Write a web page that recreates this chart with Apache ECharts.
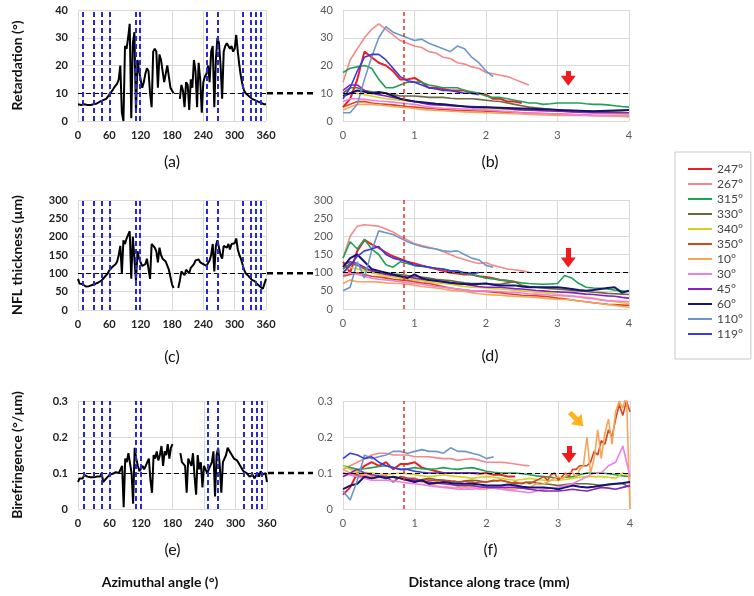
<!DOCTYPE html>
<html lang="en">
<head>
    <meta charset="utf-8">
    <title>Retardation / NFL thickness / birefringence</title>
    <script src="https://cdn.jsdelivr.net/npm/echarts@6/dist/echarts.min.js"></script>
    <style>
        html, body { margin: 0; padding: 0; background: #fff; }
        #main { width: 754px; height: 596px; }
    </style>
</head>
<body>
<div id="main"></div>
<script>
    // trace names / colours (legend order)
    var traceNames = ['247°', '267°', '315°', '330°', '340°', '350°', '10°', '30°', '45°', '60°', '110°', '119°'];
    var traceColors = ['#ee1c25', '#f4898b', '#1fa254', '#6b6a3c', '#d8d01c', '#d8441a', '#f6a45a', '#f07ce8', '#8a1fc2', '#15156e', '#6e96c9', '#3a3ae0'];
    var traceAngles = [10, 30, 45, 60, 110, 119, 247, 267, 315, 330, 340, 350];

    // azimuthal profiles (left column), sampled every 3 deg
    var angles = [0, 3, 6, 9, 12, 15, 18, 21, 24, 27, 30, 33, 36, 39, 42, 45, 48, 51, 54, 57,
        60, 63, 66, 69, 72, 75, 78, 81, 84, 87, 90, 93, 96, 99, 102, 105, 108, 111, 114, 117,
        120, 123, 126, 129, 132, 135, 138, 141, 144, 147, 150, 153, 156, 159, 162, 165, 168, 171, 174, 177,
        180, 183, 186, 189, 192, 195, 198, 201, 204, 207, 210, 213, 216, 219, 222, 225, 228, 231, 234, 237,
        240, 243, 246, 249, 252, 255, 258, 261, 264, 267, 270, 273, 276, 279, 282, 285, 288, 291, 294, 297,
        300, 303, 306, 309, 312, 315, 318, 321, 324, 327, 330, 333, 336, 339, 342, 345, 348, 351, 354, 357, 360];
    var retardAz = [6, 5.5, 5.8, 5.5, 6, 5.5, 5.8, 5.2, 5.8, 5.5, 6, 5.8, 6.3, 6.5, 7, 6.8, 7.5, 7.2, 8, 8.5,
        9.5, 10, 11, 12, 12.5, 13.5, 15, 20, 3, 0, 27, 26, 30, 35, 1, 28, 32, 3, 22, 18,
        15, 12, 14, 17, 19, 18, 10, 5, 25, 26, 25, 12, 24, 22, 18, 14, 17, 20, 16, 12,
        11, 10, null, null, null, 8, 13, 11, 5, 14, 13, 4, 15, 12, 22, 18, 5, 21, 15, 3,
        14, 16, 17, 20, 14, 25, 27, 5, 22, 30, 28, 20, 8, 25, 27, 28, 27, 26, 27, 25,
        26, 31, 25, 20, 16, 13, 11, 10, 9.5, 9, 8.5, 8, 8, 7.5, 7, 7, 6.5, 6.5, 6, 6, 6];
    var thicknessAz = [85, 72, 68, 70, 66, 64, 63, 65, 66, 68, 70, 71, 73, 75, 78, 80, 85, 90, 95, 100,
        108, 112, 118, 120, 125, 132, 150, 175, 100, 190, 180, 195, 205, 215, 85, 200, 195, 80, 160, 140,
        130, 120, 115, 125, 140, 145, 85, 180, 175, 170, 160, 130, 170, 150, 140, 135, 132, 128, 110, 90,
        70, 60, null, null, 60, 80, 105, 100, 95, 110, 105, 100, 115, 120, 125, 135, 140, 138, 130, 135,
        125, 122, 120, 128, 135, 150, 180, 105, 175, 190, 170, 150, 140, 175, 180, 170, 180, 165, 180, 175,
        182, 195, 165, 150, 140, 125, 110, 100, 95, 92, 88, 82, 80, 78, 72, 68, 65, 60, 58, 62, 85];
    var birefAz = [0.075, 0.085, 0.09, 0.085, 0.095, 0.1, 0.09, 0.092, 0.088, 0.09, 0.088, 0.092, 0.09, 0.095, 0.09, 0.1, 0.075, 0.07, 0.085, 0.09,
        0.095, 0.1, 0.098, 0.1, 0.102, 0.105, 0.1, 0.11, 0.12, 0.005, 0.14, 0.13, 0.155, 0.16, 0.1, 0.015, 0.17, 0.14, 0.12, 0.105,
        0.1, 0.12, 0.11, 0.12, 0.13, 0.14, 0.08, 0.045, 0.15, 0.14, 0.16, 0.135, 0.15, 0.175, 0.12, 0.16, 0.15, 0.18, 0.14, 0.17,
        0.18, null, null, null, null, 0.155, 0.13, 0.125, 0.12, 0.045, 0.14, 0.13, 0.12, 0.155, 0.09, 0.04, 0.15, 0.11, 0.13, 0.06,
        0.12, 0.11, 0.1, 0.1, 0.12, 0.13, 0.16, 0.035, 0.15, 0.17, 0.12, 0.045, 0.13, 0.14, 0.15, 0.17, 0.165, 0.155, 0.16, 0.14,
        0.14, 0.135, 0.13, 0.12, 0.115, 0.105, 0.1, 0.1, 0.095, 0.09, 0.095, 0.095, 0.085, 0.08, 0.1, 0.09, 0.105, 0.095, 0.1, 0.1, 0.075];

    // distance along trace (right column)
    var dist = [0, 0.1, 0.2, 0.3, 0.4, 0.5, 0.6, 0.7, 0.8, 0.9, 1, 1.1, 1.2, 1.3, 1.4, 1.5, 1.6, 1.7, 1.8, 1.9,
        2, 2.1, 2.2, 2.3, 2.4, 2.5, 2.6, 2.7, 2.8, 2.9, 3, 3.1, 3.2, 3.3, 3.4, 3.5, 3.6, 3.7, 3.8, 3.9, 4];
    var distFine = [0, 0.05, 0.1, 0.15, 0.2, 0.25, 0.3, 0.35, 0.4, 0.45, 0.5, 0.55, 0.6, 0.65, 0.7, 0.75, 0.8, 0.85, 0.9, 0.95,
        1, 1.05, 1.1, 1.15, 1.2, 1.25, 1.3, 1.35, 1.4, 1.45, 1.5, 1.55, 1.6, 1.65, 1.7, 1.75, 1.8, 1.85, 1.9, 1.95,
        2, 2.05, 2.1, 2.15, 2.2, 2.25, 2.3, 2.35, 2.4, 2.45, 2.5, 2.55, 2.6, 2.65, 2.7, 2.75, 2.8, 2.85, 2.9, 2.95,
        3, 3.05, 3.1, 3.15, 3.2, 3.25, 3.3, 3.35, 3.4, 3.45, 3.5, 3.55, 3.6, 3.65, 3.7, 3.75, 3.8, 3.85, 3.9, 3.95, 4];

    // retardation along traces (deg), legend order
    var retardTraces = [
        [5, 8, 15, 25, 23, 21, 20, 18, 15, 15, 15.5, 14, 12, 12, 11.5, 11, 11, 11, 10, 10, 9.5, 8, 8, 7, 7, 6.5],
        [14, 22, 26, 30, 33, 35, 33, 31, 29, 28, 27, 26.5, 25, 24.5, 23, 22.5, 21, 20.5, 19.5, 19, 17.5, 17, 16.5, 16, 15, 14, 13],
        [17.5, 19, 19.5, 20, 19, 15, 12, 12, 13, 14, 14, 14, 13, 12.5, 12, 12, 12, 11, 10.5, 10, 9, 8.5, 8.5, 8, 7.5, 7, 6.5, 6.5, 6, 6.2, 6.5, 6.5, 6.5, 6.5, 6.2, 6, 6, 5.8, 5.5, 5.2, 5],
        [10, 12, 12, 11, 10.5, 10, 10, 9.5, 9, 9, 9, 8.8, 8.5, 8.5, 8.5, 8.2, 8, 8, 8, 7.8, 7.5, 7.2, 7, 6.5, 6, 5.5, 5, 4.8, 4.5, 4.2, 4, 3.8, 3.8, 3.6, 3.5, 3.5, 3.4, 3.3, 3.2, 3.1, 3],
        [9, 10, 10, 9.5, 9, 8.5, 8, 7.8, 7.5, 7.2, 7, 6.8, 6.5, 6.2, 6, 5.8, 5.5, 5.2, 5, 4.8, 4.5, 4.4, 4.3, 4.2, 4.1, 4, 3.9, 3.8, 3.7, 3.6, 3.5, 3.4, 3.3, 3.2, 3.1, 3, 2.9, 2.8, 2.7, 2.6, 2.5],
        [5, 6, 7, 7, 6.5, 6.2, 6, 5.8, 5.5, 5.2, 5, 4.8, 4.5, 4.3, 4.2, 4, 3.9, 3.8, 3.7, 3.6, 3.5, 3.4, 3.3, 3.2, 3.1, 3, 2.9, 2.8, 2.7, 2.6, 2.5, 2.4, 2.3, 2.2, 2.1, 2, 2, 2, 2, 2, 2],
        [4, 5, 6, 6, 6, 5.8, 5.5, 5.2, 5, 4.8, 4.5, 4.2, 4, 3.8, 3.7, 3.5, 3.4, 3.3, 3.2, 3.1, 3, 2.9, 2.8, 2.7, 2.6, 2.5, 2.4, 2.3, 2.2, 2.1, 2, 2, 2, 2, 2, 2, 1.9, 1.8, 1.7, 1.6, 1.5],
        [7, 8, 8, 7.8, 7.5, 7.2, 7, 6.8, 6.5, 6.2, 6, 5.5, 5, 4.8, 4.6, 4.5, 4.4, 4.3, 4.2, 4.1, 4, 3.8, 3.6, 3.4, 3.2, 3, 2.9, 2.8, 2.7, 2.6, 2.5, 2.4, 2.3, 2.2, 2.1, 2, 2, 2, 2, 2, 2],
        [11, 13, 13, 11, 10, 9.5, 9, 8.5, 8, 7.5, 7, 6.5, 6, 5.8, 5.7, 5.5, 5.4, 5.3, 5.2, 5.1, 5, 4.8, 4.6, 4.4, 4.2, 4, 3.9, 3.8, 3.7, 3.6, 3.5, 3.4, 3.3, 3.2, 3.1, 3, 3, 3, 3, 3, 3],
        [9, 10, 11, 10.5, 10, 10.5, 10, 9, 8, 7.5, 7, 6.8, 6.5, 6.2, 6, 5.8, 5.5, 5.2, 5, 5, 5, 4.9, 4.8, 4.7, 4.6, 4.5, 4.4, 4.3, 4.2, 4.1, 4, 3.9, 3.8, 3.7, 3.6, 3.5, 3.6, 3.7, 3.8, 3.9, 4],
        [3, 3, 6, 15, 23, 30, 34, 32, 31, 30, 29, 29.5, 28, 27, 26, 25, 27, 26, 23, 21, 18, 16],
        [8, 12, 18, 23, 24, 24, 22, 19, 16, 14.5, 14, 13, 12, 11.5, 11, 11, 10.5, 10, 10, 9.5]
    ];

    // NFL thickness along traces (um)
    var thicknessTraces = [
        [130, 100, 160, 190, 178, 168, 155, 145, 138, 130, 125, 120, 115, 110, 105, 100, 98, 95, 95, 90, 88, 85, 80, 78, 75],
        [140, 200, 228, 232, 230, 228, 220, 212, 200, 190, 180, 175, 170, 165, 158, 150, 142, 136, 130, 125, 128, 120, 115, 110, 108, 105, 102],
        [140, 185, 165, 192, 165, 150, 122, 115, 130, 125, 120, 118, 115, 112, 110, 105, 100, 98, 95, 90, 85, 83, 80, 78, 75, 72, 70, 69, 68, 69, 70, 92, 85, 70, 60, 58, 57, 55, 52, 50, 48],
        [110, 125, 120, 110, 105, 100, 98, 96, 95, 92, 90, 88, 85, 82, 80, 78, 75, 72, 70, 70, 70, 69, 68, 72, 75, 65, 62, 60, 58, 56, 55, 53, 51, 50, 48, 46, 45, 43, 42, 41, 40],
        [100, 115, 110, 105, 100, 95, 90, 88, 85, 82, 80, 78, 75, 72, 70, 68, 65, 62, 60, 59, 58, 56, 55, 53, 52, 50, 48, 46, 45, 43, 40, 38, 36, 34, 32, 30, 26, 22, 20, 17, 15],
        [90, 95, 100, 95, 90, 88, 85, 82, 80, 78, 75, 72, 70, 66, 62, 58, 55, 52, 50, 49, 48, 46, 45, 42, 40, 38, 37, 36, 35, 33, 30, 28, 25, 22, 20, 17, 15, 13, 12, 11, 10],
        [70, 80, 75, 75, 75, 74, 72, 71, 70, 68, 65, 62, 60, 58, 55, 52, 50, 48, 45, 42, 40, 39, 38, 36, 35, 34, 33, 32, 30, 28, 27, 26, 25, 22, 20, 17, 15, 12, 10, 7, 5],
        [95, 100, 95, 90, 85, 82, 80, 78, 75, 72, 70, 68, 65, 62, 60, 58, 55, 52, 50, 50, 50, 49, 48, 46, 45, 44, 42, 41, 40, 38, 37, 36, 35, 33, 30, 28, 25, 23, 22, 21, 20],
        [120, 130, 125, 115, 105, 100, 95, 92, 90, 88, 85, 82, 80, 78, 75, 72, 70, 68, 65, 62, 60, 60, 60, 58, 56, 55, 53, 51, 50, 48, 47, 46, 45, 43, 41, 40, 38, 36, 35, 32, 30],
        [115, 140, 150, 130, 110, 105, 100, 95, 90, 85, 95, 85, 80, 78, 75, 72, 70, 69, 68, 69, 70, 67, 65, 65, 65, 62, 60, 60, 60, 60, 60, 58, 55, 52, 50, 52, 55, 58, 60, 45, 50],
        [50, 60, 130, 85, 160, 215, 210, 205, 195, 185, 178, 172, 168, 165, 160, 158, 160, 150, 140, 135, 120, 115],
        [100, 120, 145, 160, 165, 172, 150, 140, 135, 130, 120, 118, 115, 112, 110, 105, 105, 100, 98, 100]
    ];

    // birefringence along traces (deg/um); 350 and 10 are on the finer grid
    var birefTraces = [
        [0.04, 0.06, 0.1, 0.12, 0.13, 0.12, 0.13, 0.11, 0.125, 0.125, 0.13, 0.115, 0.11, 0.105, 0.1, 0.1, 0.1, 0.1, 0.1, 0.098, 0.1, 0.095, 0.095, 0.09, 0.09],
        [0.11, 0.12, 0.13, 0.14, 0.15, 0.155, 0.155, 0.15, 0.15, 0.15, 0.145, 0.145, 0.145, 0.142, 0.14, 0.14, 0.135, 0.138, 0.14, 0.135, 0.13, 0.13, 0.13, 0.128, 0.125, 0.122, 0.12],
        [0.12, 0.115, 0.11, 0.112, 0.115, 0.118, 0.12, 0.115, 0.11, 0.112, 0.115, 0.112, 0.11, 0.112, 0.115, 0.112, 0.11, 0.113, 0.115, 0.11, 0.105, 0.102, 0.1, 0.1, 0.1, 0.098, 0.095, 0.092, 0.09, 0.088, 0.085, 0.088, 0.09, 0.095, 0.1, 0.1, 0.1, 0.098, 0.095, 0.092, 0.09],
        [0.1, 0.095, 0.09, 0.088, 0.085, 0.088, 0.09, 0.075, 0.09, 0.085, 0.08, 0.082, 0.085, 0.082, 0.08, 0.078, 0.075, 0.078, 0.08, 0.078, 0.075, 0.078, 0.08, 0.075, 0.07, 0.072, 0.075, 0.072, 0.07, 0.068, 0.065, 0.068, 0.07, 0.07, 0.07, 0.068, 0.065, 0.068, 0.07, 0.07, 0.06],
        [0.12, 0.11, 0.105, 0.102, 0.1, 0.098, 0.095, 0.098, 0.1, 0.098, 0.095, 0.092, 0.09, 0.092, 0.095, 0.092, 0.09, 0.088, 0.085, 0.088, 0.09, 0.088, 0.085, 0.082, 0.08, 0.082, 0.085, 0.082, 0.08, 0.08, 0.08, 0.082, 0.085, 0.088, 0.09, 0.09, 0.09, 0.088, 0.085, 0.1, 0.09],
        [0.09, 0.095, 0.1, 0.098, 0.095, 0.092, 0.09, 0.09, 0.09, 0.088, 0.09, 0.088, 0.09, 0.088, 0.088, 0.085, 0.09, 0.088, 0.085, 0.085,
            0.085, 0.082, 0.08, 0.082, 0.08, 0.08, 0.078, 0.08, 0.08, 0.078, 0.075, 0.078, 0.075, 0.075, 0.078, 0.075, 0.075, 0.072, 0.075, 0.075,
            0.075, 0.078, 0.08, 0.078, 0.08, 0.078, 0.075, 0.072, 0.075, 0.072, 0.07, 0.075, 0.07, 0.075, 0.08, 0.085, 0.09, 0.08, 0.095, 0.1,
            0.08, 0.09, 0.1, 0.09, 0.11, 0.11, 0.12, 0.12, 0.12, 0.13, 0.16, 0.15, 0.19, 0.18, 0.22, 0.2, 0.25, 0.29, 0.26, 0.3, 0.27],
        [0.11, 0.105, 0.1, 0.1, 0.1, 0.095, 0.095, 0.09, 0.092, 0.09, 0.09, 0.09, 0.088, 0.09, 0.088, 0.09, 0.085, 0.085, 0.082, 0.08,
            0.08, 0.078, 0.075, 0.072, 0.07, 0.068, 0.065, 0.062, 0.06, 0.062, 0.06, 0.058, 0.06, 0.058, 0.06, 0.058, 0.06, 0.058, 0.055, 0.055,
            0.055, 0.058, 0.06, 0.058, 0.06, 0.058, 0.055, 0.055, 0.055, 0.058, 0.06, 0.058, 0.06, 0.065, 0.07, 0.068, 0.07, 0.075, 0.08, 0.085,
            0.09, 0.085, 0.09, 0.1, 0.1, 0.09, 0.11, 0.12, 0.2, 0.1, 0.14, 0.22, 0.14, 0.21, 0.25, 0.18, 0.27, 0.3, 0.28, 0.32, 0],
        [0.1, 0.095, 0.09, 0.085, 0.08, 0.08, 0.08, 0.078, 0.075, 0.072, 0.07, 0.068, 0.065, 0.062, 0.06, 0.058, 0.055, 0.055, 0.055, 0.058, 0.06, 0.058, 0.055, 0.052, 0.05, 0.048, 0.045, 0.05, 0.055, 0.058, 0.06, 0.065, 0.07, 0.08, 0.09, 0.1, 0.1, 0.12, 0.13, 0.175, 0.09],
        [0.09, 0.1, 0.11, 0.1, 0.095, 0.092, 0.09, 0.088, 0.085, 0.082, 0.08, 0.078, 0.075, 0.072, 0.07, 0.068, 0.065, 0.065, 0.065, 0.062, 0.06, 0.06, 0.06, 0.06, 0.06, 0.058, 0.055, 0.052, 0.05, 0.05, 0.05, 0.052, 0.055, 0.052, 0.05, 0.055, 0.06, 0.058, 0.055, 0.06, 0.065],
        [0.055, 0.065, 0.07, 0.09, 0.085, 0.09, 0.085, 0.09, 0.085, 0.08, 0.075, 0.08, 0.07, 0.072, 0.075, 0.072, 0.07, 0.07, 0.07, 0.068, 0.065, 0.065, 0.065, 0.068, 0.065, 0.062, 0.06, 0.06, 0.06, 0.058, 0.055, 0.06, 0.065, 0.062, 0.06, 0.062, 0.065, 0.068, 0.07, 0.072, 0.075],
        [0.05, 0.025, 0.08, 0.15, 0.14, 0.145, 0.15, 0.16, 0.16, 0.155, 0.16, 0.165, 0.16, 0.16, 0.155, 0.17, 0.16, 0.16, 0.155, 0.15, 0.14, 0.145],
        [0.14, 0.155, 0.15, 0.14, 0.145, 0.13, 0.12, 0.115, 0.11, 0.11, 0.105, 0.102, 0.1, 0.1, 0.1, 0.1, 0.1, 0.1, 0.1, 0.1]
    ];

    var rowTitles = ['Retardation (°)', 'NFL thickness (µm)', 'Birefringence (°/µm)'];
    var rowMax = [40, 300, 0.3];
    var rowStep = [10, 50, 0.1];
    var rowRef = [10, 100, 0.1];
    var cutDistance = 0.85;
    // arrows: panel index, tail, head (data units)
    var arrowNotes = [
        {panel: 1, from: [3.15, 18], to: [3.15, 14.5], color: '#ee1c1c'},
        {panel: 3, from: [3.15, 168], to: [3.15, 128], color: '#ee1c1c'},
        {panel: 5, from: [3.15, 0.175], to: [3.15, 0.142], color: '#ee1c1c'},
        {panel: 5, from: [3.16, 0.268], to: [3.3, 0.24], color: '#ffb21e'}
    ];

    var gridBoxes = [
        {left: 78, top: 10, width: 188, height: 111},
        {left: 343, top: 10, width: 286, height: 111},
        {left: 78, top: 200, width: 188, height: 110},
        {left: 343, top: 200, width: 286, height: 109},
        {left: 78, top: 401, width: 189, height: 108},
        {left: 343, top: 401, width: 287, height: 108}
    ];
    var panelLabelGap = [41, 47, 41];

    var FONT = 'Lato, "Liberation Sans", sans-serif';
    var gridColor = '#d9d9d9';

    function pairs(xs, ys) {
        return ys.map(function (v, i) {
            return [xs[i], v == null ? '-' : v];
        });
    }

    var chart = echarts.init(document.getElementById('main'));
    var grids = [], xAxes = [], yAxes = [], series = [], graphics = [];
    var allTraces = [retardTraces, thicknessTraces, birefTraces];
    var azProfiles = [retardAz, thicknessAz, birefAz];

    for (var r = 0; r < 3; r++) {
        var gl = 2 * r, gr = 2 * r + 1;
        grids.push(Object.assign({containLabel: false}, gridBoxes[gl]));
        grids.push(Object.assign({containLabel: false}, gridBoxes[gr]));

        // left: azimuthal angle
        xAxes.push({
            gridIndex: gl, type: 'value', min: 0, max: 360, interval: 60,
            axisLine: {show: false}, axisTick: {show: false},
            axisLabel: {fontFamily: FONT, fontSize: 11, fontWeight: 'bold', color: '#222', margin: 9},
            splitLine: {show: true, lineStyle: {color: gridColor}}
        });
        yAxes.push({
            gridIndex: gl, type: 'value', min: 0, max: rowMax[r], interval: rowStep[r],
            axisLine: {show: false}, axisTick: {show: false},
            axisLabel: {fontFamily: FONT, fontSize: 11, fontWeight: 'bold', color: '#222', margin: 10},
            splitLine: {show: true, lineStyle: {color: gridColor}}
        });
        // right: distance along trace
        xAxes.push({
            gridIndex: gr, type: 'value', min: 0, max: 4, interval: 1,
            axisLine: {show: false}, axisTick: {show: false},
            axisLabel: {fontFamily: FONT, fontSize: 11, color: '#595959', margin: 9},
            splitLine: {show: true, lineStyle: {color: gridColor}}
        });
        yAxes.push({
            gridIndex: gr, type: 'value', min: 0, max: rowMax[r], interval: rowStep[r],
            axisLine: {show: false}, axisTick: {show: false},
            axisLabel: {fontFamily: FONT, fontSize: 11, color: '#595959', margin: 10},
            splitLine: {show: true, lineStyle: {color: gridColor}}
        });

        // azimuthal profile + trace angles + reference level
        var leftMarks = [{yAxis: rowRef[r], lineStyle: {color: '#000', type: [5, 3], width: 1.2}}];
        traceAngles.forEach(function (a) {
            leftMarks.push({xAxis: a, lineStyle: {color: '#2828d6', type: [5, 3], width: 2}});
        });
        series.push({
            type: 'line', xAxisIndex: gl, yAxisIndex: gl,
            data: pairs(angles, azProfiles[r]),
            symbol: 'none', z: 3,
            lineStyle: {color: '#000', width: 2},
            markLine: {silent: true, symbol: 'none', label: {show: false}, data: leftMarks}
        });

        // traces
        allTraces[r].forEach(function (vals, k) {
            var xs = vals.length > dist.length ? distFine : dist;
            series.push({
                name: traceNames[k], type: 'line', xAxisIndex: gr, yAxisIndex: gr,
                data: pairs(xs, vals), symbol: 'none', clip: true,
                lineStyle: {color: traceColors[k], width: (k === 0 || k === 9) ? 2 : 1.6},
                itemStyle: {color: traceColors[k]}
            });
        });

        // reference level, cut line, arrows
        var rightMarks = [
            {yAxis: rowRef[r], lineStyle: {color: '#000', type: [5, 3], width: 1.2}},
            {xAxis: cutDistance, lineStyle: {color: '#e3322e', type: [4, 3], width: 1.5}}
        ];
        arrowNotes.filter(function (n) { return n.panel === gr; }).forEach(function (n) {
            rightMarks.push([
                {coord: n.from, symbol: 'none', lineStyle: {color: n.color, width: 5, type: 'solid'}},
                {coord: n.to, symbol: 'triangle', symbolSize: [15, 10]}
            ]);
        });
        series.push({
            type: 'line', xAxisIndex: gr, yAxisIndex: gr, data: [], z: 5,
            markLine: {silent: true, symbol: 'none', label: {show: false}, data: rightMarks}
        });

        // text
        var bl = gridBoxes[gl], br = gridBoxes[gr];
        graphics.push({
            type: 'text', x: 17, y: bl.top + bl.height / 2, rotation: Math.PI / 2,
            style: {text: rowTitles[r], font: 'bold 14px ' + FONT, fill: '#111', textAlign: 'center', textVerticalAlign: 'middle'}
        });
        graphics.push({
            type: 'text', x: bl.left + bl.width / 2, y: bl.top + bl.height + panelLabelGap[r],
            style: {text: '(' + 'ace'[r] + ')', font: '16px ' + FONT, fill: '#111', textAlign: 'center', textVerticalAlign: 'middle'}
        });
        graphics.push({
            type: 'text', x: br.left + br.width / 2 + 4, y: br.top + br.height + panelLabelGap[r],
            style: {text: '(' + 'bdf'[r] + ')', font: '16px ' + FONT, fill: '#111', textAlign: 'center', textVerticalAlign: 'middle'}
        });
    }

    graphics.push({
        type: 'text', x: 160, y: 582,
        style: {text: 'Azimuthal angle (°)', font: 'bold 14px ' + FONT, fill: '#111', textAlign: 'center', textVerticalAlign: 'middle'}
    });
    graphics.push({
        type: 'text', x: 489, y: 582,
        style: {text: 'Distance along trace (mm)', font: 'bold 14px ' + FONT, fill: '#111', textAlign: 'center', textVerticalAlign: 'middle'}
    });

    var option = {
        animation: false,
        backgroundColor: '#fff',
        grid: grids,
        xAxis: xAxes,
        yAxis: yAxes,
        legend: {
            data: traceNames,
            orient: 'vertical',
            left: 675, top: 152,
            padding: [11, 8, 19, 13],
            icon: 'rect',
            itemWidth: 24, itemHeight: 2, itemGap: 3,
            borderColor: '#c8c8c8', borderWidth: 1,
            textStyle: {fontFamily: FONT, fontSize: 12, lineHeight: 12, color: '#444'}
        },
        graphic: graphics,
        series: series
    };
    chart.setOption(option);

    // thick dashed connector between the left and right panels of each row
    var connectors = [];
    for (var i = 0; i < 3; i++) {
        var p = chart.convertToPixel({gridIndex: 2 * i}, [360, rowRef[i]]);
        connectors.push({
            type: 'line',
            shape: {x1: p[0] + 1, y1: p[1], x2: 313, y2: p[1]},
            style: {stroke: '#000', lineWidth: 2.5, lineDash: [6, 4]}
        });
    }
    chart.setOption({graphic: graphics.concat(connectors)});
</script>
</body>
</html>
